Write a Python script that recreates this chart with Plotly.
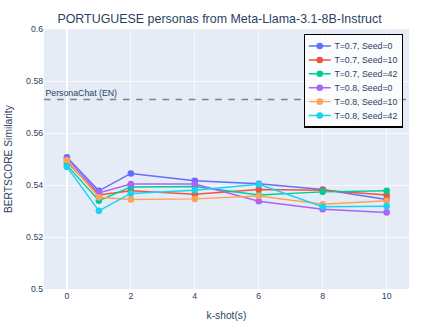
import plotly.graph_objects as go

k_shots = [0, 1, 2, 4, 6, 8, 10]

t07_s0 = [0.5507, 0.5378, 0.5445, 0.5417, 0.5405, 0.5383, 0.5345]
t07_s10 = [0.5490, 0.5362, 0.5378, 0.5365, 0.5383, 0.5380, 0.5362]
t07_s42 = [0.5477, 0.5340, 0.5393, 0.5395, 0.5362, 0.5374, 0.5378]
t08_s0 = [0.5499, 0.5370, 0.5404, 0.5404, 0.5338, 0.5307, 0.5295]
t08_s10 = [0.5496, 0.5353, 0.5345, 0.5347, 0.5358, 0.5326, 0.5340]
t08_s42 = [0.5470, 0.5301, 0.5368, 0.5380, 0.5403, 0.5317, 0.5319]

names = ["T=0.7, Seed=0", "T=0.7, Seed=10", "T=0.7, Seed=42",
         "T=0.8, Seed=0", "T=0.8, Seed=10", "T=0.8, Seed=42"]
series = [t07_s0, t07_s10, t07_s42, t08_s0, t08_s10, t08_s42]

baseline = 0.573

fig = go.Figure()
for name, vals in zip(names, series):
    fig.add_trace(go.Scatter(x=k_shots, y=vals, name=name, mode="lines+markers",
                             marker=dict(size=9), line=dict(width=2)))

fig.add_hline(y=baseline, line_dash="dash", line_color="gray", line_width=2,
              annotation_text="PersonaChat (EN)", annotation_position="top left")

# built at 600x450 and shrunk to fit the 439x329 window
fig.update_layout(
    width=600, height=450,
    title=dict(text="PORTUGUESE personas from Meta-Llama-3.1-8B-Instruct",
               x=0.5, y=0.944, yanchor="middle", font=dict(size=17)),
    margin=dict(l=60, r=41, t=40, b=55),
    font=dict(family="Arial", size=12),
    xaxis=dict(title=dict(text="k-shot(s)", font=dict(size=14)), tickvals=[0, 2, 4, 6, 8, 10],
               range=[-0.72, 10.7]),
    yaxis=dict(title=dict(text="BERTSCORE Similarity", font=dict(size=14)), range=[0.5, 0.6],
               dtick=0.02),
    legend=dict(x=0.984, y=0.982, xanchor="right", yanchor="top",
                bgcolor="rgba(255,255,255,0.85)", bordercolor="black", borderwidth=2,
                font=dict(size=12)),
)

shrink = "document.body.style.margin='0';document.getElementById('{plot_id}').style.zoom='0.7317';"
fig.write_html("out.html", post_script=shrink, config={"displayModeBar": False})
